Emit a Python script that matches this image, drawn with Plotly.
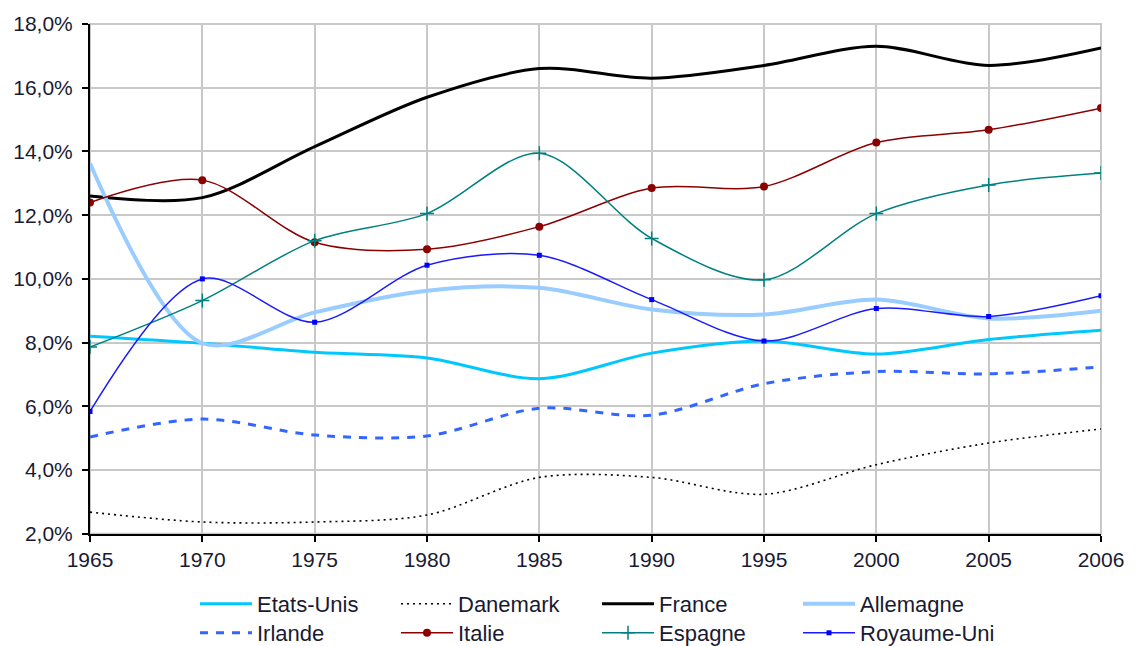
import plotly.graph_objects as go

years = ["1965", "1970", "1975", "1980", "1985", "1990", "1995", "2000", "2005", "2006"]

etats_unis = [8.2, 7.98, 7.7, 7.52, 6.87, 7.67, 8.05, 7.64, 8.1, 8.39]
danemark = [2.68, 2.37, 2.37, 2.59, 3.77, 3.77, 3.24, 4.17, 4.85, 5.29]
france = [12.6, 12.55, 14.15, 15.7, 16.6, 16.3, 16.7, 17.3, 16.7, 17.25]
allemagne = [13.63, 7.98, 8.95, 9.63, 9.72, 9.04, 8.88, 9.35, 8.76, 9.0]
irlande = [5.04, 5.6, 5.1, 5.07, 5.94, 5.72, 6.71, 7.09, 7.02, 7.24]
italie = [12.4, 13.1, 11.15, 10.93, 11.64, 12.85, 12.9, 14.28, 14.68, 15.36]
espagne = [7.86, 9.32, 11.2, 12.05, 13.94, 11.27, 9.97, 12.05, 12.95, 13.32]
royaume_uni = [5.84, 10.0, 8.64, 10.43, 10.74, 9.35, 8.05, 9.07, 8.82, 9.47]

y_ticks = [2, 4, 6, 8, 10, 12, 14, 16, 18]
y_labels = ["2,0%", "4,0%", "6,0%", "8,0%", "10,0%", "12,0%", "14,0%", "16,0%", "18,0%"]

FONT = "Liberation Sans, Arial, sans-serif"
TXT = "#1a1a33"

fig = go.Figure()

def add(name, vals, color, width, dash="solid", marker=None, legend="legend"):
    kw = dict(
        x=years, y=vals, name=name, legend=legend,
        line=dict(color=color, width=width, dash=dash, shape="spline", smoothing=0.9),
    )
    if marker:
        kw["mode"] = "lines+markers"
        kw["marker"] = marker
    else:
        kw["mode"] = "lines"
    fig.add_trace(go.Scatter(**kw))

# row 1
add("Etats-Unis", etats_unis, "#00C8FF", 3, legend="legend")
add("Danemark", danemark, "#000000", 1.6, dash="2px,4px", legend="legend")
add("France", france, "#000000", 3, legend="legend")
add("Allemagne", allemagne, "#99CCFF", 4, legend="legend")
# row 2
add("Irlande", irlande, "#3366FF", 3, dash="8px,8px", legend="legend2")
add("Italie", italie, "#8B0000", 1.5,
    marker=dict(symbol="circle", size=8, color="#8B0000"), legend="legend2")
add("Espagne", espagne, "#008080", 1.5,
    marker=dict(symbol="cross-thin", size=10, line=dict(color="#008080", width=1.5)), legend="legend2")
add("Royaume-Uni", royaume_uni, "#1A1AFF", 1.5,
    marker=dict(symbol="square", size=5, color="#0000FF"), legend="legend2")

legend_common = dict(
    orientation="h", xref="container", yref="container",
    xanchor="left", yanchor="middle",
    font=dict(family=FONT, size=22, color=TXT),
    itemwidth=52,
    entrywidth=134, entrywidthmode="pixels",
    bgcolor="rgba(0,0,0,0)", tracegroupgap=0,
)

fig.update_layout(
    width=1136, height=646,
    margin=dict(l=90, r=29, t=23, b=109),
    paper_bgcolor="white", plot_bgcolor="white",
    font=dict(family=FONT, size=21, color=TXT),
    legend=dict(x=195 / 1136, y=1 - 604 / 646, **legend_common),
    legend2=dict(x=195 / 1136, y=1 - 633 / 646, **legend_common),
    xaxis=dict(
        type="category", range=[0, 9],
        showgrid=True, gridcolor="#c8c8c8", gridwidth=2,
        showline=True, linecolor="#000000", linewidth=2,
        ticks="outside", ticklen=6, tickwidth=2, tickcolor="#000000",
        tickfont=dict(family=FONT, size=21, color=TXT),
    ),
    yaxis=dict(
        range=[2, 18], tickmode="array", tickvals=y_ticks, ticktext=y_labels,
        showgrid=True, gridcolor="#c8c8c8", gridwidth=2,
        showline=True, linecolor="#000000", linewidth=2,
        ticks="outside", ticklen=6, tickwidth=2, tickcolor="#000000",
        ticklabelstandoff=5,
        tickfont=dict(family=FONT, size=21, color=TXT),
        zeroline=False,
    ),
    shapes=[dict(type="rect", xref="paper", yref="paper", x0=0, x1=1, y0=0, y1=1,
                 line=dict(color="#c8c8c8", width=2), layer="below")],
)

fig.write_html("out.html", config={"displayModeBar": False},
               post_script="document.body.style.margin='0';")
